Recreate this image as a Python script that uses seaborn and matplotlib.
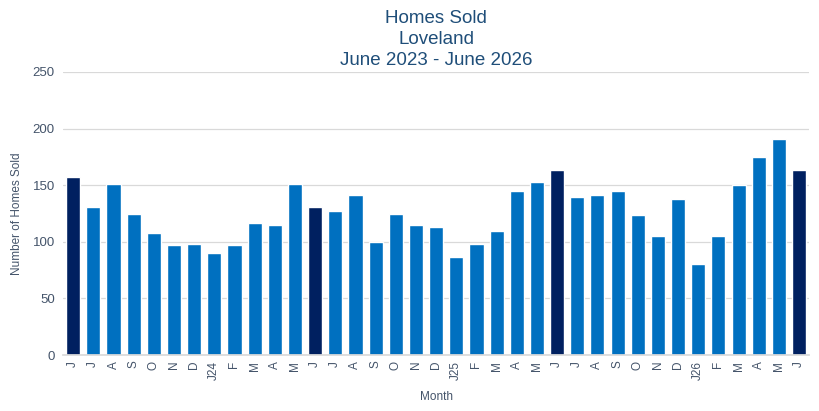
import matplotlib
matplotlib.use("Agg")
import matplotlib.pyplot as plt
import seaborn as sns
import pandas as pd

months = ["J", "J", "A", "S", "O", "N", "D", "J24", "F", "M", "A", "M",
          "J", "J", "A", "S", "O", "N", "D", "J25", "F", "M", "A", "M",
          "J", "J", "A", "S", "O", "N", "D", "J26", "F", "M", "A", "M", "J"]
homes_sold = [157, 131, 151, 125, 108, 97, 98, 90, 97, 117, 115, 151,
              131, 127, 141, 100, 125, 115, 113, 87, 98, 110, 145, 153,
              163, 140, 141, 145, 124, 105, 138, 80, 105, 150, 175, 191, 163]
highlight = [0, 12, 24, 36]  # June bars

sns.set_theme(style="white")
plt.rcParams['font.family'] = ['Liberation Sans', 'DejaVu Sans']

dark = "#002060"
mid = "#0070C0"
colors = [dark if i in highlight else mid for i in range(len(months))]

df = pd.DataFrame({"idx": [str(i) for i in range(len(months))], "val": homes_sold})

fig = plt.figure(figsize=(8.19, 4.11), dpi=100)
ax = fig.add_axes([0.077, 0.136, 0.911, 0.689])
sns.barplot(data=df, x="idx", y="val", hue="idx", palette=colors, legend=False,
            width=0.7, saturation=1, ax=ax)

ax.set_ylim(0, 250)
ax.set_yticks([0, 50, 100, 150, 200, 250])
ax.set_xlim(-0.5, len(months) - 0.5)
ax.yaxis.grid(True, color="#D9D9D9", linewidth=0.9)
ax.set_axisbelow(True)
for s in ["top", "right", "left"]:
    ax.spines[s].set_visible(False)
ax.spines["bottom"].set_color("#D9D9D9")

tick_color = "#44546A"
ax.set_xticks(range(len(months)))
ax.set_xticklabels(months, rotation=90, fontsize=8.5, color=tick_color)
ax.tick_params(axis="y", labelsize=9.5, colors=tick_color, length=0, pad=6)
ax.tick_params(axis="x", length=0, pad=4)

ax.set_ylabel("Number of Homes Sold", fontsize=8.5, color=tick_color, labelpad=7)
ax.set_xlabel("Month", fontsize=8.5, color=tick_color, labelpad=8)

ax.set_title("Homes Sold\nLoveland\nJune 2023 - June 2026", fontsize=13.5,
             color="#1F4E79", linespacing=1.32, pad=5)

fig.savefig("out.png", dpi=100, facecolor="white")
